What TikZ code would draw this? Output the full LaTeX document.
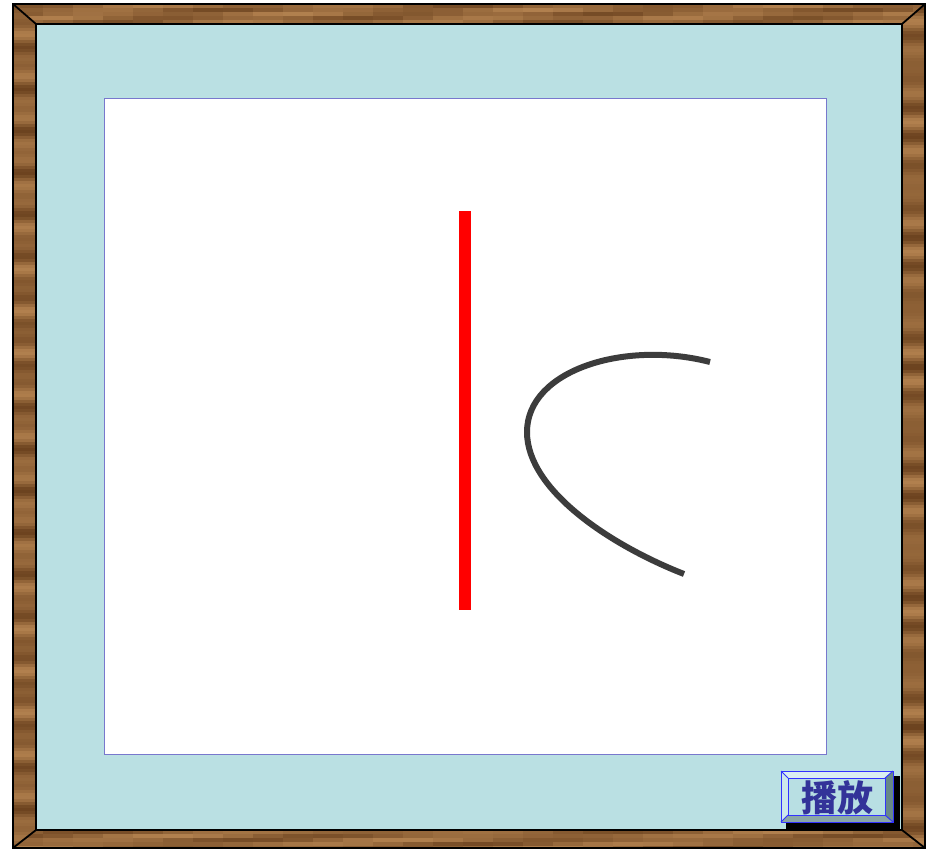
\documentclass[tikz,border=0pt]{standalone}
\usepackage{fontspec}
\newfontfamily\cjk{Noto Sans CJK SC}
\definecolor{wdark}{RGB}{98,58,24}
\definecolor{wlight}{RGB}{186,136,84}
\definecolor{mat}{RGB}{186,224,227}
\definecolor{edge}{RGB}{120,120,205}
\definecolor{btnface}{RGB}{184,223,227}
\definecolor{btnlight}{RGB}{218,239,241}
\definecolor{btnleft}{RGB}{205,232,235}
\definecolor{btndark}{RGB}{104,136,136}
\definecolor{btnbottom}{RGB}{138,166,166}
\definecolor{btnline}{RGB}{50,50,255}
\definecolor{btntext}{RGB}{51,51,153}
\definecolor{curvegray}{RGB}{60,60,60}
\tikzset{
  frameline/.style={draw=black,line width=1.8pt},
  btnoutline/.style={draw=btnline,line width=0.9pt},
  label/.style={font=\cjk\bfseries\fontsize{36}{36}\selectfont,text=btntext,inner sep=0pt}
}
\begin{document}
\begin{tikzpicture}[x=1pt,y=-1pt]
\useasboundingbox (0,0) rectangle (930,849);
\fill[white] (0,0) rectangle (930,849);
% wood: left
\begin{scope}
\clip (13,4) -- (36,24) -- (36,830) -- (13,848) -- cycle;
\foreach \y in {4,7,...,850}{
  \pgfmathtruncatemacro\p{50+22*sin(\y*9)+18*sin(\y*17+50)}
  \fill[wdark!\p!wlight] (13,\y) rectangle (36,\y+3.3);
}
\end{scope}
% wood: right
\begin{scope}
\clip (925,4) -- (902,24) -- (902,830) -- (925,848) -- cycle;
\foreach \y in {4,7,...,850}{
  \pgfmathtruncatemacro\p{50+22*sin(\y*11+30)+18*sin(\y*14+10)}
  \fill[wdark!\p!wlight] (902,\y) rectangle (925,\y+3.3);
}
\end{scope}
% wood: top
\begin{scope}
\clip (13,4) -- (925,4) -- (902,24) -- (36,24) -- cycle;
\foreach \x in {13,43,...,925}{
  \foreach \y in {4,8,...,24}{
    \pgfmathtruncatemacro\p{45+20*sin(\x*1.7+\y*13)+15*sin(\y*40+\x*0.6)}
    \fill[wdark!\p!wlight] (\x,\y) rectangle (\x+30.5,\y+4.3);
  }
}
\end{scope}
% wood: bottom
\begin{scope}
\clip (13,848) -- (925,848) -- (902,830) -- (36,830) -- cycle;
\foreach \x in {13,43,...,925}{
  \foreach \y in {830,834,...,848}{
    \pgfmathtruncatemacro\p{45+20*sin(\x*1.3+(\y-830)*17)+15*sin((\y-830)*37+\x*0.8)}
    \fill[wdark!\p!wlight] (\x,\y) rectangle (\x+30.5,\y+4.3);
  }
}
\end{scope}
% mat
\fill[mat] (36,24) rectangle (902,830);
% frame lines
\draw[frameline] (13,4) rectangle (925,848);
\draw[frameline] (36,24) rectangle (902,830);
\draw[frameline] (13,4) -- (36,24) (925,4) -- (902,24) (13,848) -- (36,830) (925,848) -- (902,830);
% white area
\node[draw=edge,fill=white,line width=1pt,minimum width=722pt,minimum height=656pt,inner sep=0pt,anchor=north west] (board) at (104,98) {};
% red bar
\node[fill=red,minimum width=12pt,minimum height=399pt,inner sep=0pt,anchor=north west] (bar) at (459,211) {};
% curve
\draw[curvegray,line width=6pt] (710,362) .. controls (625,340) and (527,370) .. (527,432) .. controls (527,490) and (610,545) .. (684,574);
% button
\fill[black] (786,776) rectangle (900,829);
\fill[btnlight] (781,771) -- (893,771) -- (885,778) -- (788,778) -- cycle;
\fill[btnleft] (781,771) -- (788,778) -- (788,815) -- (781,822) -- cycle;
\fill[btndark] (893,771) -- (893,822) -- (885,815) -- (885,778) -- cycle;
\fill[btnbottom] (781,822) -- (893,822) -- (885,815) -- (788,815) -- cycle;
\fill[btnface] (788,778) rectangle (885,815);
\draw[btnoutline] (781,771) rectangle (893,822);
\draw[btnoutline] (788,778) rectangle (885,815);
\draw[btnoutline] (781,771) -- (788,778) (893,771) -- (885,778) (781,822) -- (788,815) (893,822) -- (885,815);
\node[label] (play) at (837,798) {播放};
\end{tikzpicture}
\end{document}
